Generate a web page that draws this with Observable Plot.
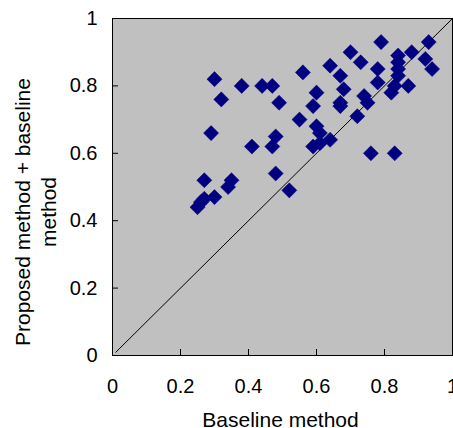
<!DOCTYPE html>
<html><head><meta charset="utf-8">
<script src="https://cdn.jsdelivr.net/npm/d3@7"></script>
<script src="https://cdn.jsdelivr.net/npm/@observablehq/plot@0.6"></script>
<style>body{margin:0;background:#fff} svg{overflow:visible}</style>
</head><body><div id="chart"></div>
<script>
const baseline = [0.30,0.32,0.38,0.44,0.47,0.49,0.29,0.41,0.47,0.48,0.48,0.52,0.27,0.35,0.34,0.30,0.27,0.26,0.25,0.55,0.56,0.60,0.59,0.60,0.61,0.59,0.64,0.61,0.64,0.67,0.68,0.67,0.67,0.70,0.73,0.72,0.74,0.75,0.76,0.83,0.79,0.78,0.78,0.82,0.83,0.84,0.84,0.84,0.84,0.87,0.88,0.92,0.93,0.94];
const proposed = [0.82,0.76,0.80,0.80,0.80,0.75,0.66,0.62,0.62,0.65,0.54,0.49,0.52,0.52,0.50,0.47,0.465,0.455,0.44,0.70,0.84,0.78,0.74,0.68,0.66,0.62,0.64,0.63,0.86,0.83,0.79,0.75,0.74,0.90,0.87,0.71,0.77,0.75,0.60,0.60,0.93,0.85,0.81,0.78,0.80,0.89,0.87,0.85,0.83,0.80,0.90,0.88,0.93,0.85];
const tickValues = [0, 0.2, 0.4, 0.6, 0.8, 1];
const tickLabels = ["0", "0.2", "0.4", "0.6", "0.8", "1"];
const diagonal = [0.01, 1];
const xTitle = "Baseline method";
const yTitle = "Proposed method + baseline\nmethod";

const points = baseline.map((x, i) => ({x, y: proposed[i]}));
const diag = diagonal.map(v => ({v}));
const fmt = d => tickLabels[tickValues.indexOf(d)];

const chart = Plot.plot({
  width: 453, height: 428,
  marginLeft: 112, marginRight: 1, marginTop: 18, marginBottom: 73,
  style: {fontFamily: "Liberation Sans", fontSize: "20px", background: "#fff", color: "#000"},
  x: {domain: [0, 1]},
  y: {domain: [0, 1]},
  marks: [
    Plot.frame({fill: "#c0c0c0"}),
    Plot.line(diag, {x: "v", y: "v", stroke: "#000", strokeWidth: 1}),
    Plot.dot(points, {x: "x", y: "y", symbol: "diamond2", r: 6.8, fill: "#000080", stroke: "#000080", strokeWidth: 0.5}),
    Plot.frame({stroke: "#000", strokeWidth: 1}),
    Plot.axisX({ticks: tickValues, tickFormat: fmt, tickSize: 0, tickPadding: 23, label: null, fontSize: 20}),
    Plot.axisX({ticks: tickValues, tickFormat: () => "", tickSize: -6, label: null}),
    Plot.axisY({ticks: tickValues, tickFormat: fmt, tickSize: 0, tickPadding: 15, label: null, fontSize: 20}),
    Plot.axisY({ticks: tickValues, tickFormat: () => "", tickSize: -6, label: null}),
    Plot.text([xTitle], {text: d => d, frameAnchor: "bottom", lineAnchor: "bottom", dy: 71, dx: -2, fontSize: 21}),
    Plot.text([yTitle], {text: d => d, frameAnchor: "left", textAnchor: "middle", rotate: -90, lineAnchor: "middle", lineHeight: 1.24, dx: -78, dy: 25, fontSize: 21})
  ]
});
document.getElementById("chart").appendChild(chart);
</script>
</body></html>
